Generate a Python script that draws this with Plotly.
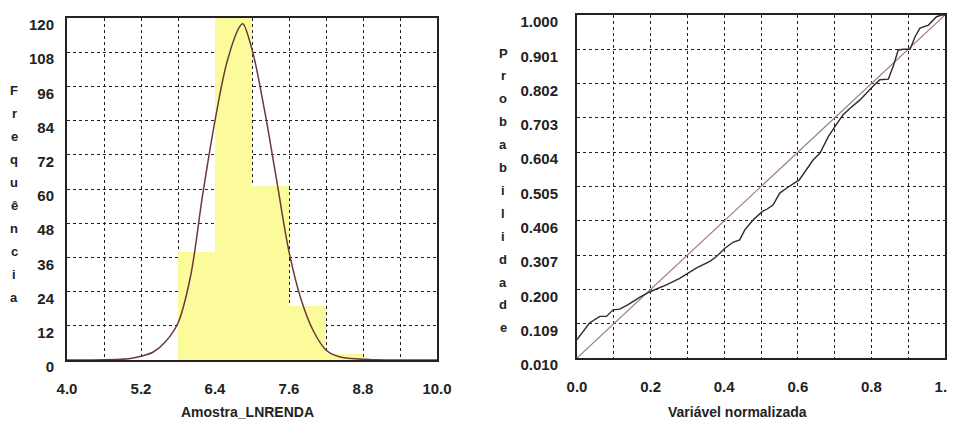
import plotly.graph_objects as go

# page body has an 8px default margin: the figure is sized so it ends at the window edge
OFF = 8
W, H = 955 - OFF, 422 - OFF

# ---------------- data: left (histogram + fitted curve) ----------------
bin_centers = [6.1, 6.7, 7.3, 7.9, 8.5]
bin_counts = [38, 122, 61, 19, 2]
bin_width = 0.6

curve_x = [4.0, 4.4, 4.8, 5.0, 5.2, 5.4, 5.6, 5.8, 6.0, 6.2, 6.4, 6.6, 6.8, 6.85,
           7.0, 7.2, 7.4, 7.6, 7.8, 8.0, 8.2, 8.4, 8.6, 9.0, 9.5, 10.0]
curve_y = [0, 0, 0.2, 0.4, 1.3, 2.8, 6.5, 13, 29, 58, 84, 105, 117, 118,
           109, 88, 63, 38, 21, 10, 3.5, 1.2, 0.5, 0.1, 0, 0]

left_xticks = [4.0, 4.6, 5.2, 5.8, 6.4, 7.0, 7.6, 8.2, 8.8, 9.4, 10.0]
left_xtext = ["4.0", "", "5.2", "", "6.4", "", "7.6", "", "8.8", "", "10.0"]
left_yticks = [0, 12, 24, 36, 48, 60, 72, 84, 96, 108, 120]
left_ytext = ["0", "12", "24", "36", "48", "60", "72", "84", "96", "108", "120"]

# ---------------- data: right (probability plot) ----------------
ref_x = [0.0, 1.0]
ref_y = [0.01, 1.0]

emp_x = [0.0, 0.034, 0.062, 0.08, 0.098, 0.116, 0.139, 0.17, 0.2, 0.243, 0.279,
         0.302, 0.325, 0.361, 0.379, 0.402, 0.424, 0.442, 0.456, 0.479, 0.504,
         0.517, 0.533, 0.551, 0.569, 0.604, 0.624, 0.642, 0.66, 0.683, 0.704,
         0.723, 0.742, 0.769, 0.805, 0.823, 0.846, 0.859, 0.873, 0.887, 0.905,
         0.919, 0.932, 0.955, 0.977, 0.991, 1.0]
emp_y = [0.063, 0.111, 0.13, 0.13, 0.149, 0.151, 0.164, 0.185, 0.202, 0.221, 0.24,
         0.255, 0.27, 0.289, 0.303, 0.327, 0.344, 0.351, 0.38, 0.409, 0.433,
         0.44, 0.452, 0.486, 0.5, 0.524, 0.553, 0.582, 0.601, 0.649, 0.683,
         0.712, 0.731, 0.755, 0.795, 0.813, 0.815, 0.851, 0.899, 0.901, 0.901,
         0.938, 0.962, 0.971, 0.995, 1.0, 1.0]

right_xticks = [0.0, 0.1, 0.2, 0.3, 0.4, 0.5, 0.6, 0.7, 0.8, 0.9, 1.0]
right_xtext = ["0.0", "", "0.2", "", "0.4", "", "0.6", "", "0.8", "", "1.0"]
right_yticks = [0.010, 0.109, 0.208, 0.307, 0.406, 0.505, 0.604, 0.703, 0.802, 0.901, 1.000]
right_ytext = ["0.010", "0.109", "0.200", "0.307", "0.406", "0.505", "0.604",
               "0.703", "0.802", "0.901", "1.000"]

left_title_letters = list("Frequência")
right_title_letters = list("Probabilidade")

# ---------------- figure ----------------
fig = go.Figure()

fig.add_trace(go.Bar(x=bin_centers, y=bin_counts, width=bin_width,
                     marker=dict(color="#fbfb9c", line=dict(width=0)),
                     xaxis="x", yaxis="y", showlegend=False))
fig.add_trace(go.Scatter(x=curve_x, y=curve_y, mode="lines",
                         line=dict(color="#6b3a3a", width=1.5, shape="spline", smoothing=1.0),
                         xaxis="x", yaxis="y", showlegend=False))

fig.add_trace(go.Scatter(x=ref_x, y=ref_y, mode="lines",
                         line=dict(color="#a07a86", width=1.2),
                         xaxis="x2", yaxis="y2", showlegend=False))
fig.add_trace(go.Scatter(x=emp_x, y=emp_y, mode="lines",
                         line=dict(color="#2a2a38", width=1.4),
                         xaxis="x2", yaxis="y2", showlegend=False))


def px_x(p):
    # p is a pixel position in the window; convert to paper coords of the figure
    return (p - OFF) / W


def px_y(p):
    return 1 - (p - OFF) / H


tick_font = dict(family="Liberation Sans, Arial, sans-serif", size=15, color="#222", weight="bold")
grid = dict(showgrid=True, gridcolor="#222", gridwidth=1, griddash="3px,3px",
            showline=True, linecolor="#222", linewidth=2, mirror=True,
            zeroline=False, ticks="", tickfont=tick_font, fixedrange=True,
            automargin=False, ticklabeloverflow="allow")

fig.update_layout(
    width=W, height=H,
    margin=dict(l=0, r=0, t=0, b=0, autoexpand=False),
    paper_bgcolor="white", plot_bgcolor="white",
    bargap=0,
    xaxis=dict(domain=[px_x(67), px_x(437)], range=[4.0, 10.0], anchor="y",
               tickmode="array", tickvals=left_xticks, ticktext=left_xtext,
               ticklabelstandoff=14, **grid),
    yaxis=dict(domain=[px_y(360), px_y(18)], range=[0, 120], anchor="x",
               tickmode="array", tickvals=left_yticks, ticktext=left_ytext,
               ticklabelstandoff=8, ticklabelshift=7, **grid),
    xaxis2=dict(domain=[px_x(577), px_x(945)], range=[0, 1.0], anchor="y2",
                tickmode="array", tickvals=right_xticks, ticktext=right_xtext,
                ticklabelstandoff=14, **grid),
    yaxis2=dict(domain=[px_y(358), px_y(15)], range=[0.01, 1.0], anchor="x2",
                tickmode="array", tickvals=right_yticks, ticktext=right_ytext,
                ticklabelstandoff=14, ticklabelshift=7, **grid),
)

ann_font = dict(family="Liberation Sans, Arial, sans-serif", size=14, color="#222", weight="bold")
annotations = [
    dict(text="Amostra_LNRENDA", x=px_x(248), y=px_y(412), xref="paper", yref="paper",
         xanchor="center", yanchor="middle", showarrow=False, font=ann_font),
    dict(text="Variável normalizada", x=px_x(737), y=px_y(412), xref="paper", yref="paper",
         xanchor="center", yanchor="middle", showarrow=False, font=ann_font),
]
letter_font = dict(family="Liberation Sans, Arial, sans-serif", size=13, color="#222", weight="bold")
for i, ch in enumerate(left_title_letters):
    annotations.append(dict(text=ch, x=px_x(14), y=px_y(90 + i * 23), xref="paper", yref="paper",
                            xanchor="center", yanchor="middle", showarrow=False, font=letter_font))
for i, ch in enumerate(right_title_letters):
    annotations.append(dict(text=ch, x=px_x(503), y=px_y(53 + i * 22.9), xref="paper", yref="paper",
                            xanchor="center", yanchor="middle", showarrow=False, font=letter_font))
fig.update_layout(annotations=annotations)

fig.write_html("out.html", config={"displayModeBar": False})
